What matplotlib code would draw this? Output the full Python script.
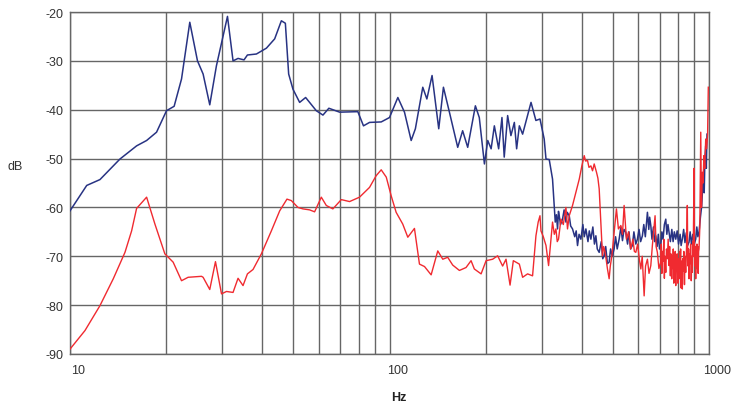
import matplotlib
matplotlib.use("Agg")
import matplotlib.pyplot as plt
import matplotlib.transforms as mtransforms
from matplotlib.ticker import FixedLocator, NullFormatter

plt.rcParams['font.family'] = ['Liberation Sans', 'DejaVu Sans']

# ---- data (Hz, dB) ----
blue_hz = [10.0, 11.28, 12.41, 14.33, 16.16, 17.37, 18.66, 20.05, 21.18, 22.34,
           23.71, 25.06, 26.10, 27.38, 28.73, 31.11, 32.38, 33.57, 35.05, 35.92,
           38.32, 41.19, 43.71, 45.87, 47.21, 48.35, 49.87, 52.33, 54.64, 59.0,
           61.9, 64.6, 69.8, 79.6, 82.9, 86.6, 94.2, 100.0, 106.2, 111.4,
           116.9, 120.5, 127.1, 130.9, 135.9, 142.6, 147.5, 154.0, 163.5, 169.4,
           175.7, 185.7, 191.0, 198.2, 203.0, 208.0, 212.9, 219.6, 224.9, 228.6,
           234.3, 239.9, 245.9, 250.0, 254.9, 261.0, 277.3, 287.2, 295.8, 304.9,
           308.9, 316.2, 323.8, 327.8, 330.2, 333, 335.7, 338, 339.8, 343,
           348.0, 352, 356.6, 360, 365.2, 369, 374.0, 380, 384, 387.7,
           392, 397.2, 403, 407, 411.8, 418, 422, 426.9, 433, 438,
           442.5, 447, 453.2, 460, 465, 469.8, 475, 481, 486.9, 492,
           498, 504.7, 510, 516, 523.3, 530, 536, 542, 549.1, 556,
           562, 568, 575.8, 582, 590, 596.9, 604, 611, 618.8, 625,
           632, 641.6, 648, 652, 657.4, 663, 670, 676, 681.5, 688,
           694, 700, 706.5, 712, 718, 725, 732.3, 738, 744, 749.9,
           757, 765, 772, 779, 786.9, 795, 803, 812, 818, 825.1,
           833, 841, 849, 857, 865.8, 873, 881, 890, 899, 908.5,
           916, 923, 930.6, 940, 949, 955, 960, 966, 971, 976.6,
           981, 985.7]
blue_db = [-60.7, -55.5, -54.3, -50.1, -47.4, -46.3, -44.6, -40.2, -39.3, -33.7,
           -22.1, -30.0, -32.7, -39.0, -31.0, -20.9, -30.0, -29.5, -29.8, -28.8,
           -28.6, -27.4, -25.5, -21.8, -22.3, -32.7, -35.8, -38.5, -37.5, -40.2,
           -41.1, -39.7, -40.5, -40.4, -43.3, -42.6, -42.5, -41.6, -37.5, -40.5,
           -46.3, -43.9, -35.4, -37.8, -33.0, -43.9, -35.4, -40.5, -47.7, -44.3,
           -47.7, -39.2, -41.6, -51.1, -46.3, -48.0, -43.3, -48.0, -41.6, -49.7,
           -41.2, -45.3, -42.6, -48.0, -43.3, -45.0, -38.5, -42.2, -41.9, -46.0,
           -50.1, -50.2, -54.2, -59.6, -63.0, -61.5, -64.4, -60.8, -61.7, -63.5,
           -62.4, -60.5, -63.0, -61.0, -61.7, -63.8, -64.4, -66.0, -64.8, -67.8,
           -65.5, -66.5, -63.5, -66.0, -64.4, -67.0, -64.8, -66.5, -64.0, -67.5,
           -65.8, -68.5, -69.2, -67.0, -70.5, -69.9, -68.0, -71.5, -71.2, -68.5,
           -70.0, -68.5, -66.0, -68.5, -66.5, -64.0, -66.8, -64.5, -65.1, -67.5,
           -65.0, -68.5, -67.8, -65.0, -67.5, -66.5, -64.5, -67.0, -65.8, -63.5,
           -66.0, -61.0, -64.5, -62.0, -63.7, -66.5, -64.0, -67.0, -65.8, -68.0,
           -65.5, -68.5, -67.8, -65.0, -66.5, -63.5, -62.4, -65.5, -63.5, -65.1,
           -67.0, -64.5, -67.0, -65.0, -66.5, -64.8, -67.5, -65.5, -67.8, -66.5,
           -64.5, -67.2, -65.2, -67.8, -67.1, -65.0, -67.5, -65.5, -67.5, -66.5,
           -64.0, -66.0, -65.1, -62.0, -59.6, -56.0, -54.9, -57.0, -50.0, -47.4,
           -52.0, -45.0]

red_hz_low = [10.0, 11.14, 12.41, 13.66, 14.86, 15.59, 16.16, 17.37, 18.44, 19.81,
              21.03, 22.34, 23.42, 25.80, 26.10, 27.38, 28.53, 29.80, 30.89, 32.38,
              33.57, 34.80, 35.92, 37.40, 39.72, 42.68, 45.32, 47.76, 49.29, 51.70,
              53.60, 56.23, 58.29, 61.17, 63.41, 66.49, 70.65, 74.99, 80.58, 86.60,
              90.85, 94.2, 97.7, 101.2, 104.9, 110.0, 114.1, 119.7, 124.1, 128.7,
              135.0, 141.6, 146.8, 152.1, 157.7, 165.5, 173.6, 180.0, 184.3, 193.5,
              200.6, 210.3, 218.0, 226.0, 231.6, 238.4, 244.1, 254.9, 261.0, 270.5,
              280.4, 287.3, 292, 295.8, 297.9, 303, 308.9, 314.7, 320.2, 323.8,
              328, 331.8, 335, 338.1, 344.0, 350, 356.6, 360.7, 365.2, 374.0,
              383.3, 392.6, 400, 406.9, 411, 416.7, 421, 426.9, 432, 437.2,
              444.5, 449, 453.2, 458.7, 464.1, 468, 473.2, 481.1, 486.9, 491,
              496.6, 504.7, 513.2, 520.6, 529.7, 536, 542.4, 551.5, 560, 569.2,
              578, 584, 590.1, 598, 605, 611.9, 618, 626.6, 633, 641.6,
              649, 657.4, 664.9, 678.0, 683, 689.3, 697]
red_db_low = [-89.0, -85.2, -80.1, -74.6, -69.2, -64.8, -60.2, -57.9, -63.4, -69.5,
              -71.2, -75.0, -74.3, -74.1, -74.3, -76.8, -71.1, -77.7, -77.2, -77.4,
              -74.5, -76.0, -73.6, -72.7, -69.5, -64.8, -60.7, -58.3, -58.6, -60.0,
              -60.3, -60.5, -60.9, -57.9, -59.6, -60.3, -58.4, -58.8, -57.9, -55.9,
              -53.5, -52.3, -53.8, -57.6, -61.0, -63.4, -66.1, -64.3, -71.6, -72.1,
              -73.8, -68.9, -70.6, -70.2, -71.8, -72.9, -72.3, -70.9, -72.6, -73.6,
              -70.9, -70.6, -69.9, -72.0, -70.6, -75.9, -70.9, -71.6, -74.3, -73.6,
              -74.0, -65.8, -63.0, -61.7, -64.8, -66.0, -67.8, -71.9, -66.5, -63.0,
              -65.5, -64.4, -67.0, -66.5, -62.4, -63.5, -60.0, -64.4, -61.7, -59.6,
              -56.9, -54.2, -51.5, -49.4, -50.5, -50.4, -51.8, -51.5, -52.5, -51.1,
              -52.8, -54.0, -56.2, -63.0, -69.9, -68.0, -69.2, -72.6, -74.6, -72.0,
              -69.9, -65.1, -60.3, -64.4, -63.7, -65.5, -59.6, -66.5, -65.0, -68.5,
              -66.5, -69.0, -69.2, -67.5, -70.5, -72.6, -70.0, -78.1, -72.0, -70.6,
              -73.5, -71.9, -67.8, -61.7, -68.0, -69.2, -72.5]

red_hz_high = [706.5, 709, 712, 715, 719, 722, 725, 728, 732.3, 736,
               741, 745, 749.9, 753, 757, 760, 764.5, 767, 770, 773,
               776, 779, 781, 784, 786.9, 789, 792, 795, 799, 802,
               805.8, 809, 812, 815, 818, 821, 825.1, 828, 831, 834,
               838, 841, 845.5, 849, 852, 855.3, 858, 860, 863, 865.8,
               869, 872, 876, 880, 883, 886.9, 890, 892, 895, 897.8,
               900, 903, 906, 908.5, 911, 914, 917, 919.2, 922, 925,
               928, 930.6, 936, 942.3, 947, 953.1, 958, 963.9, 970, 976.6,
               983, 990, 995]
red_db_high = [-71.2, -67.5, -73.5, -69.0, -71.0, -66.5, -74.5, -70.0, -73.3, -68.5,
               -70.5, -66.5, -71.9, -68.0, -74.0, -69.5, -74.6, -70.0, -72.5, -68.5,
               -75.5, -70.5, -72.0, -69.0, -76.0, -71.0, -73.0, -69.5, -75.5, -70.5,
               -74.6, -69.0, -72.0, -68.5, -76.5, -71.0, -76.7, -70.5, -73.0, -69.0,
               -75.8, -70.0, -73.3, -70.0, -66.0, -59.6, -70.0, -72.0, -68.5, -74.6,
               -69.5, -71.5, -67.5, -75.0, -70.0, -73.3, -67.0, -70.0, -62.0, -52.0,
               -66.0, -72.0, -68.0, -74.6, -69.0, -72.5, -67.5, -71.9, -68.0, -73.5,
               -69.0, -68.5, -64.0, -44.6, -60.0, -52.8, -55.0, -49.4, -52.0, -46.0,
               -48.0, -45.0, -35.4]

x_major = [10, 100, 1000]
x_major_labels = ['10', '100', '1000']
x_minor = [20, 30, 40, 50, 60, 70, 80, 90, 200, 300, 400, 500, 600, 700, 800, 900]
y_ticks = [-90, -80, -70, -60, -50, -40, -30, -20]

blue_color = '#283383'
red_color = '#f02a30'
grid_color = '#666666'

fig = plt.figure(figsize=(7.36, 4.06), dpi=100)
ax = fig.add_axes([70 / 736, 1 - 355 / 406, (709 - 70) / 736, (355 - 13) / 406])

ax.plot(blue_hz, blue_db, color=blue_color, lw=1.1, zorder=3)
ax.plot(red_hz_low + red_hz_high, red_db_low + red_db_high,
        color=red_color, lw=1.0, zorder=4)

ax.set_xscale('log')
ax.set_xlim(10, 1000)
ax.set_ylim(-90, -20)

ax.xaxis.set_major_locator(FixedLocator(x_major))
ax.set_xticklabels(x_major_labels)
ax.xaxis.set_minor_locator(FixedLocator(x_minor))
ax.xaxis.set_minor_formatter(NullFormatter())
ax.set_yticks(y_ticks)
ax.set_yticklabels([str(v) for v in y_ticks])

ax.grid(True, which='both', axis='x', color=grid_color, lw=1.0)
ax.grid(True, which='major', axis='y', color=grid_color, lw=1.0)
ax.tick_params(which='both', length=0)
ax.tick_params(axis='y', pad=5, labelsize=9, labelcolor='#333333')
ax.tick_params(axis='x', pad=7, labelsize=9, labelcolor='#333333')
for s in ax.spines.values():
    s.set_color(grid_color)
    s.set_linewidth(1.0)

offset = mtransforms.ScaledTranslation(0.08, 0, fig.dpi_scale_trans)
for lbl in ax.get_xticklabels():
    lbl.set_transform(lbl.get_transform() + offset)

fig.text(399 / 736, 1 - 398 / 406, 'Hz', ha='center', va='center',
         fontsize=9, fontweight='bold', color='#222222')
fig.text(15 / 736, 1 - 167 / 406, 'dB', ha='center', va='center',
         fontsize=9, color='#333333')

fig.savefig('out.png', dpi=100)
